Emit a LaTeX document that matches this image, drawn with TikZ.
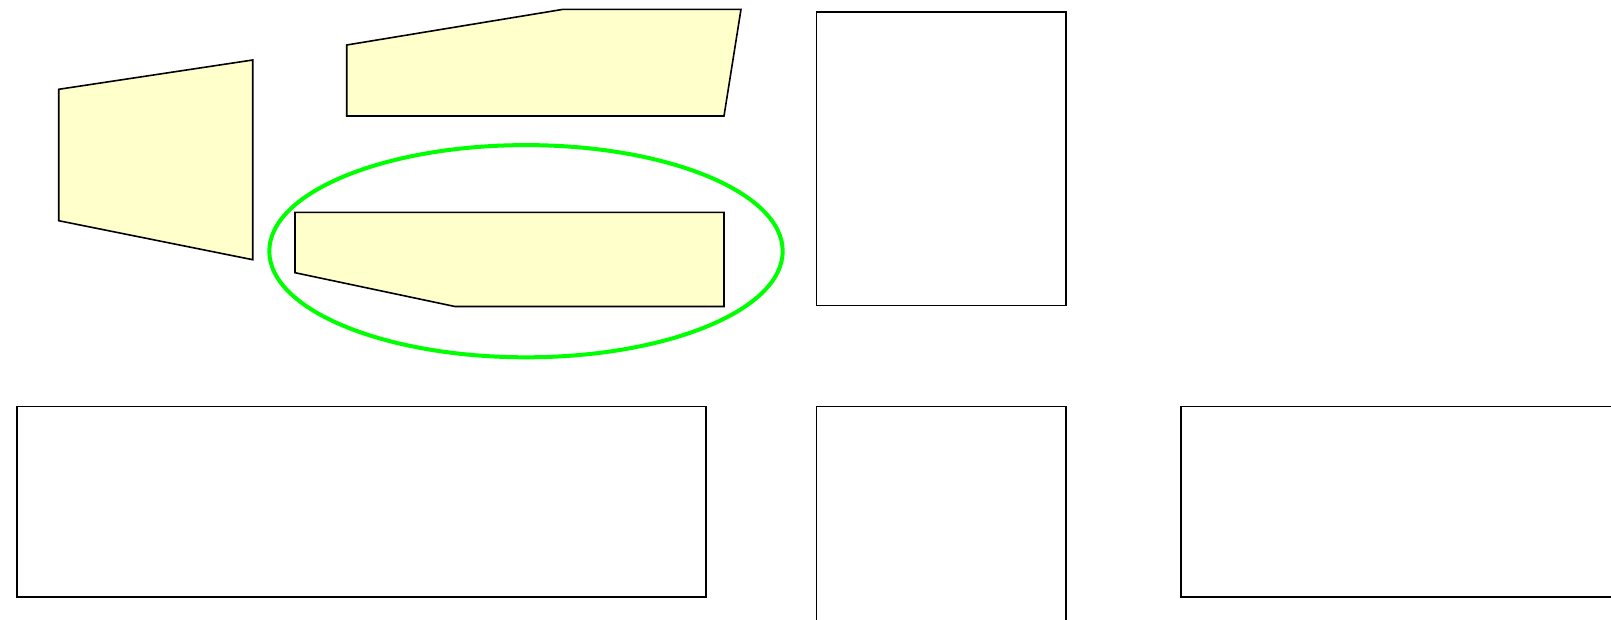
\documentclass[tikz,border=0pt]{standalone}
\usepackage{tikz}

\definecolor{paleyellow}{RGB}{255,255,204}
\definecolor{brightgreen}{RGB}{0,255,0}

\tikzset{every picture/.style={line width=0.75pt}}
\tikzset{
  blockshape/.style={draw=black, line width=1.2pt, fill=paleyellow, line join=miter},
  frameshape/.style={draw=black, line width=1.2pt, fill=white},
  groupring/.style={draw=brightgreen, line width=3pt}
}

\begin{document}
\begin{tikzpicture}[x=0.75pt,y=0.75pt,yscale=-1,xscale=1]
%set diagram to the full canvas
\useasboundingbox (0,0) rectangle (1611,619);
\clip (0,0) rectangle (1611,619);

%Shape: Polygon [left trapezoid]
\draw [blockshape] (58.7,89.3) -- (252.7,60) -- (252.7,259.7) -- (58.7,220.7) -- cycle ;
%Shape: Polygon [top slab]
\draw [blockshape] (346.7,45) -- (563.3,9.3) -- (741,9.3) -- (724,116) -- (346.7,116) -- cycle ;
%Shape: Ellipse [green ring]
\draw [groupring] (526,251.2) ellipse (256.7 and 106.1) ;
%Shape: Polygon [slab inside ring]
\draw [blockshape] (295,212.3) -- (724,212.3) -- (724,306.5) -- (455,306.5) -- (295,272.7) -- cycle ;

%Shape: Rectangle [top right]
\draw [frameshape] (816.5,11.7) rectangle (1066,305.5) ;
%Shape: Rectangle [bottom left]
\draw [frameshape] (16.7,406.3) rectangle (705.7,597) ;
%Shape: Rectangle [bottom middle, runs off the page]
\draw [frameshape] (816.3,406.3) rectangle (1066,640) ;
%Shape: Rectangle [bottom right, runs off the page]
\draw [frameshape] (1180.7,406.3) rectangle (1640,597) ;

\end{tikzpicture}
\end{document}
